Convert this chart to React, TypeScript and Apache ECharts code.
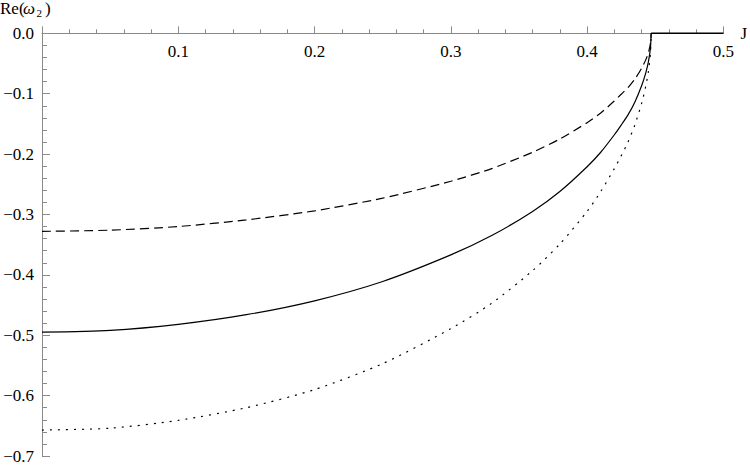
import React, { useEffect, useRef } from "react";
import * as echarts from "echarts";

const J = [0, 0.05, 0.1, 0.15, 0.2, 0.25, 0.3, 0.33, 0.36, 0.38, 0.4, 0.41, 0.42, 0.425, 0.43, 0.435, 0.44, 0.443, 0.445, 0.4465, 0.447];
const solid = [-0.495, -0.492, -0.482, -0.466, -0.443, -0.411, -0.367, -0.335, -0.295, -0.262, -0.221, -0.197, -0.168, -0.152, -0.135, -0.114, -0.087, -0.066, -0.047, -0.024, 0];
const dashed = [-0.328, -0.326, -0.32, -0.309, -0.294, -0.273, -0.245, -0.224, -0.197, -0.175, -0.148, -0.132, -0.112, -0.101, -0.09, -0.076, -0.058, -0.044, -0.032, -0.016, 0];
const dotted = [-0.657, -0.654, -0.641, -0.62, -0.59, -0.547, -0.489, -0.447, -0.393, -0.349, -0.295, -0.262, -0.224, -0.203, -0.18, -0.152, -0.116, -0.088, -0.063, -0.032, 0];
const flatJ = [0.447, 0.5];
const flatV = [0, 0];

const FONT = "Liberation Serif";
const AXIS = "#8a8a8a";

export default function App() {
  const ref = useRef<HTMLDivElement>(null);
  useEffect(() => {
    if (!ref.current) return;
    const chart = echarts.init(ref.current, undefined, { renderer: "svg" });
    const pts = (ys: number[]) => J.map((x, i) => [x, ys[i]]);
    const line = (ys: number[], type: any) => ({
      type: "line",
      data: pts(ys),
      showSymbol: false,
      smooth: 0.25,
      clip: false,
      lineStyle: { color: "#000", width: 1.2, type },
    });
    chart.setOption({
      animation: false,
      backgroundColor: "#ffffff",
      textStyle: { fontFamily: FONT },
      grid: { left: 42, top: 33.3, right: 23, bottom: 11, containLabel: false },
      xAxis: {
        type: "value",
        position: "top",
        min: 0,
        max: 0.5,
        interval: 0.1,
        name: "J",
        nameLocation: "end",
        nameGap: 17,
        nameTextStyle: { fontFamily: FONT, fontSize: 17, color: "#000" },
        axisLine: { onZero: false, lineStyle: { color: AXIS, width: 1 } },
        axisTick: { show: true, inside: false, length: 7, lineStyle: { color: AXIS } },
        minorTick: { show: true, splitNumber: 5, length: 4, lineStyle: { color: AXIS } },
        splitLine: { show: false },
        minorSplitLine: { show: false },
        axisLabel: {
          inside: true,
          margin: 10,
          showMinLabel: false,
          fontFamily: FONT,
          fontSize: 17,
          color: "#000",
          formatter: (v: number) => v.toFixed(1),
        },
      },
      yAxis: {
        type: "value",
        min: -0.7,
        max: 0,
        interval: 0.1,
        axisLine: { onZero: false, lineStyle: { color: AXIS, width: 1 } },
        axisTick: { show: true, inside: true, length: 8, lineStyle: { color: AXIS } },
        minorTick: { show: true, splitNumber: 5, length: 5, lineStyle: { color: AXIS } },
        splitLine: { show: false },
        minorSplitLine: { show: false },
        axisLabel: {
          margin: 8,
          fontFamily: FONT,
          fontSize: 17,
          color: "#000",
          formatter: (v: number) => (Math.abs(v) < 1e-9 ? "0.0" : v.toFixed(1).replace("-", "\u2212")),
        },
      },
      graphic: [
        {
          type: "group",
          left: 0,
          top: 0,
          children: [
            { type: "text", x: 14, y: 13, style: { text: "Re(", font: `17px ${FONT}`, fill: "#000", verticalAlign: "middle" } },
            { type: "text", x: 37, y: 13, style: { text: "ω", font: `italic 17px ${FONT}`, fill: "#000", verticalAlign: "middle" } },
            { type: "text", x: 50.5, y: 17, style: { text: "2", font: `11px ${FONT}`, fill: "#000", verticalAlign: "middle" } },
            { type: "text", x: 59, y: 13, style: { text: ")", font: `17px ${FONT}`, fill: "#000", verticalAlign: "middle" } },
          ],
        },
      ],
      series: [
        line(dashed, [9, 5]),
        line(dotted, [2, 6]),
        line(solid, "solid"),
        {
          type: "line",
          data: flatJ.map((x, i) => [x, flatV[i]]),
          showSymbol: false,
          clip: false,
          lineStyle: { color: "#000", width: 1.5, type: "solid" },
        },
      ],
    });
    return () => chart.dispose();
  }, []);
  return <div ref={ref} style={{ width: 750, height: 467, position: "absolute", left: 0, top: 0 }} />;
}
